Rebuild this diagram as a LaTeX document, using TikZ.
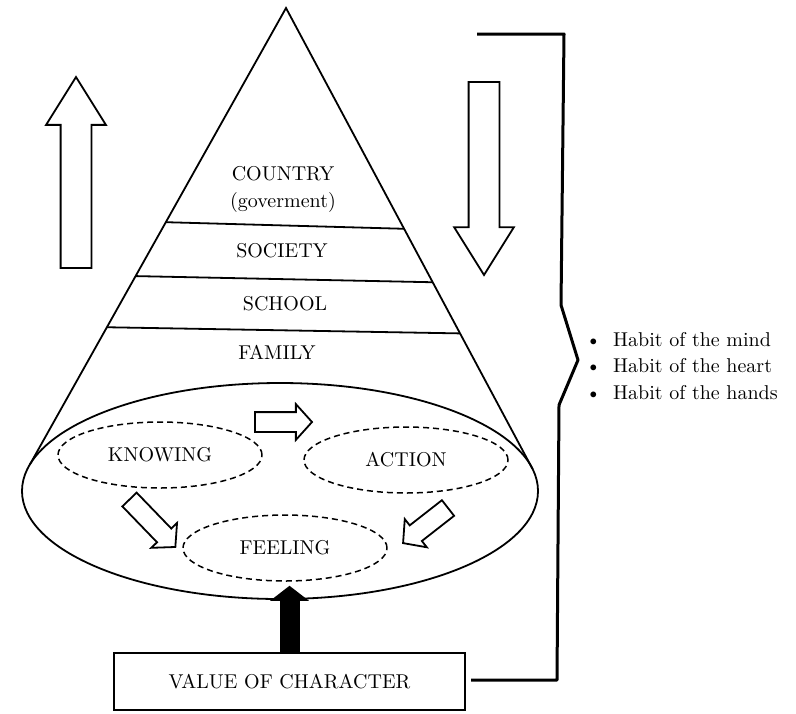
\documentclass[tikz,border=0pt]{standalone}
\usetikzlibrary{shapes.geometric, shapes.arrows, arrows.meta, calc, positioning}
\begin{document}
\begin{tikzpicture}[x=0.5pt, y=-0.5pt, line width=0.9pt,
  tier/.style={font=\fontsize{10}{13.5}\selectfont, align=center},
  bigoval/.style={ellipse, draw, inner sep=0pt, outer sep=0pt},
  dashoval/.style={ellipse, draw, dash pattern=on 3pt off 2pt, line width=0.75pt, minimum width=102pt, minimum height=33pt, inner sep=0pt},
  bigarrow/.style={single arrow, draw, inner xsep=0pt, inner ysep=7.25pt, minimum width=0pt, outer sep=0pt, single arrow head extend=7.25pt, single arrow tip angle=64, anchor=tail},
  smallarrow/.style={single arrow, draw, inner xsep=0pt, inner ysep=4.5pt, minimum width=0pt, outer sep=0pt, single arrow head extend=4pt, single arrow tip angle=96, anchor=tail},
  charbox/.style={draw, minimum width=175.5pt, minimum height=28.5pt},
  charline/.style={line width=10pt, -{Triangle[width=19pt, length=7.5pt]}},
  bracketline/.style={line width=1.5pt, line join=round}
]
\useasboundingbox (0,0) rectangle (796,713);

% the cone
\coordinate (apex) at (286,8);
\node (base)[bigoval, minimum width=258pt, minimum height=108pt] at (280,491) {};
\coordinate (tl) at (base.174.4);
\coordinate (tr) at (base.5.4);
\draw (tl) -- (apex) -- (tr);

\draw ($(apex)!0.469!(tl)$) -- ($(apex)!0.479!(tr)$);
\draw ($(apex)!0.587!(tl)$) -- ($(apex)!0.595!(tr)$);
\draw ($(apex)!0.699!(tl)$) -- ($(apex)!0.706!(tr)$);

\node (country)[tier] at (283,189) {COUNTRY\\(goverment)};
\node (society)[tier] at (282,251) {SOCIETY};
\node (school)[tier] at (285,304) {SCHOOL};
\node (family)[tier] at (277,352) {FAMILY};

% inside the base
\node (knowing)[dashoval] at (160,455) {KNOWING};
\node (action)[dashoval] at (406,460) {ACTION};
\node (feeling)[dashoval] at (285,548) {FEELING};

\node (kaArrow)[smallarrow, minimum height=28.5pt] at (255,422) {};
\node (kfArrow)[smallarrow, minimum height=33pt, rotate=-46] at (129.5,499.5) {};
\node (afArrow)[smallarrow, minimum height=28.5pt, rotate=-142] at (448,508) {};

% up and down
\node (upArrow)[bigarrow, minimum height=95.5pt, rotate=90] at (76,268) {};
\node (downArrow)[bigarrow, minimum height=96.5pt, rotate=-90] at (484,82) {};

% value of character
\node (value)[charbox] at (289.5,681.5) {VALUE OF CHARACTER};
\draw[charline] (value.north) -- ([yshift=-2pt]value.north |- feeling.south);

% bracket and habits
\coordinate (brTop) at (477,34);
\coordinate (brTip) at (578,360);
\coordinate (brBot) at (471,680);
\draw[bracketline] (brTop) -- (564,34) -- (561,305) -- (brTip) -- (559,405) -- (557,680) -- (brBot);

\node (habits)[right=0pt of brTip, yshift=-3pt, align=left, font=\fontsize{10}{13.25}\selectfont]
  {\textbullet\hspace{6pt}Habit of the mind\\
   \textbullet\hspace{6pt}Habit of the heart\\
   \textbullet\hspace{6pt}Habit of the hands};

\end{tikzpicture}
\end{document}
